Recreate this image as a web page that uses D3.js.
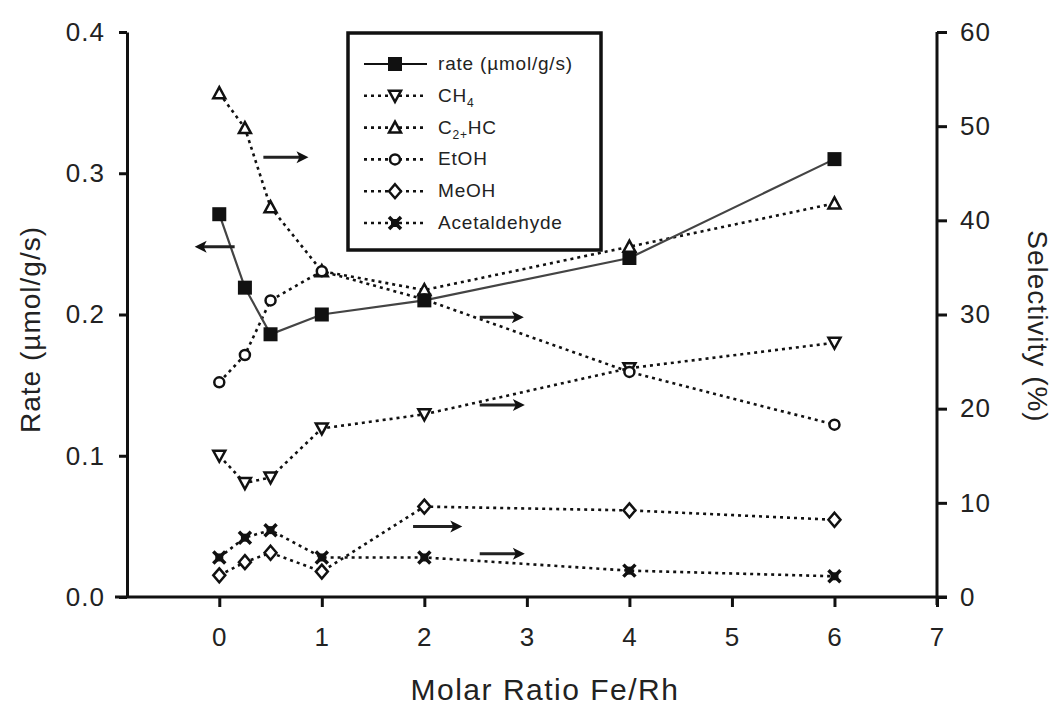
<!DOCTYPE html>
<html>
<head>
<meta charset="utf-8">
<script src="https://cdn.jsdelivr.net/npm/d3@7"></script>
<style>
  body { margin: 0; background: #fff; }
  svg text { font-family: "Liberation Sans", Arial, sans-serif; fill: #222; }
</style>
</head>
<body>
<svg id="chart"></svg>
<script>
// molar ratio Fe/Rh
const ratios = [0, 0.25, 0.5, 1, 2, 4, 6];

// left axis: rate (umol/g/s)
const rate = [0.271, 0.219, 0.186, 0.200, 0.210, 0.240, 0.310];

// right axis: selectivity (%)
const ch4 = [15.0, 12.1, 12.7, 17.9, 19.4, 24.3, 27.0];
const c2hc = [53.5, 49.8, 41.4, 34.6, 32.6, 37.2, 41.8];
const etoh = [22.8, 25.7, 31.5, 34.6, 31.6, 23.9, 18.3];
const meoh = [2.3, 3.7, 4.7, 2.7, 9.6, 9.2, 8.2];
const acetaldehyde = [4.2, 6.3, 7.1, 4.2, 4.2, 2.8, 2.2];

const xTicks = [0, 1, 2, 3, 4, 5, 6, 7];
const leftTicks = [0, 0.1, 0.2, 0.3, 0.4];
const rightTicks = [0, 10, 20, 30, 40, 50, 60];

// arrows pointing at the axis each curve belongs to
const arrows = [
  { from: 0.15, to: -0.24, y: 0.248, axis: 'left' },
  { from: 0.43, to: 0.87, y: 46.7, axis: 'right' },
  { from: 2.54, to: 2.97, y: 29.7, axis: 'right' },
  { from: 2.54, to: 2.98, y: 20.4, axis: 'right' },
  { from: 1.89, to: 2.37, y: 7.5, axis: 'right' },
  { from: 2.54, to: 2.98, y: 4.6, axis: 'right' }
];

const series = [
  { name: 'rate', label: 'rate (µmol/g/s)', values: rate, axis: 'left', symbol: 'square' },
  { name: 'ch4', label: 'CH', sub: '4', values: ch4, axis: 'right', symbol: 'down' },
  { name: 'c2hc', label: 'C', sub: '2+', tail: 'HC', values: c2hc, axis: 'right', symbol: 'up' },
  { name: 'etoh', label: 'EtOH', values: etoh, axis: 'right', symbol: 'circle' },
  { name: 'meoh', label: 'MeOH', values: meoh, axis: 'right', symbol: 'diamond' },
  { name: 'acet', label: 'Acetaldehyde', values: acetaldehyde, axis: 'right', symbol: 'star' }
];

const width = 1052, height = 705;
const plot = { left: 127, right: 937, top: 32, bottom: 597 };

const svg = d3.select('#chart')
  .attr('width', width)
  .attr('height', height);

const x = d3.scaleLinear().domain([-0.9, 7]).range([plot.left, plot.right]);
const yLeft = d3.scaleLinear().domain([0, 0.4]).range([plot.bottom, plot.top]);
const yRight = d3.scaleLinear().domain([0, 60]).range([plot.bottom, plot.top]);
const yFor = s => s.axis === 'left' ? yLeft : yRight;

// axes
const xAxis = svg.append('g')
  .attr('transform', `translate(0, ${plot.bottom})`)
  .call(d3.axisBottom(x).tickValues(xTicks).tickSize(10).tickSizeOuter(0).tickPadding(21).tickFormat(d3.format('d')));
xAxis.select('.domain').attr('d', `M${plot.left - 12},0H${plot.right + 10}`);

const leftAxis = svg.append('g')
  .attr('transform', `translate(${plot.left}, 0)`)
  .call(d3.axisLeft(yLeft).tickValues(leftTicks).tickSize(8).tickSizeOuter(0).tickPadding(14).tickFormat(d3.format('.1f')));

const rightAxis = svg.append('g')
  .attr('transform', `translate(${plot.right}, 0)`)
  .call(d3.axisRight(yRight).tickValues(rightTicks).tickSize(10).tickSizeOuter(0).tickPadding(13).tickFormat(d3.format('d')));
rightAxis.select('.domain').attr('d', `M0,${plot.top}V${plot.bottom + 8}`);

[xAxis, leftAxis, rightAxis].forEach(a => {
  a.selectAll('.domain, .tick line').attr('stroke', '#111').attr('stroke-width', 3);
  a.selectAll('text').attr('font-size', 26).attr('letter-spacing', 1).attr('fill', '#222');
});

// axis titles
svg.append('text')
  .attr('x', 545).attr('y', 700)
  .attr('text-anchor', 'middle')
  .attr('font-size', 30)
  .attr('letter-spacing', 1.5)
  .text('Molar Ratio Fe/Rh');

svg.append('text')
  .attr('transform', `translate(40, ${(plot.top + plot.bottom) / 2 + 15}) rotate(-90)`)
  .attr('text-anchor', 'middle')
  .attr('font-size', 28)
  .attr('letter-spacing', 1)
  .text('Rate (µmol/g/s)');

svg.append('text')
  .attr('transform', `translate(1028, ${(plot.top + plot.bottom) / 2 + 12}) rotate(90)`)
  .attr('text-anchor', 'middle')
  .attr('font-size', 28)
  .attr('letter-spacing', 1)
  .text('Selectivity (%)');

// markers
function drawSymbol(g, type) {
  if (type === 'square') {
    g.append('rect').attr('x', -7).attr('y', -7).attr('width', 14).attr('height', 14).attr('fill', '#111');
  } else if (type === 'down') {
    g.append('path').attr('d', 'M-6,-5L6,-5L0,6Z').attr('fill', '#fff').attr('stroke', '#111').attr('stroke-width', 2.5);
  } else if (type === 'up') {
    g.append('path').attr('d', 'M-6,5L6,5L0,-6Z').attr('fill', '#fff').attr('stroke', '#111').attr('stroke-width', 2.5);
  } else if (type === 'circle') {
    g.append('circle').attr('r', 5).attr('fill', '#fff').attr('stroke', '#111').attr('stroke-width', 2.5);
  } else if (type === 'diamond') {
    g.append('path').attr('d', 'M0,-7L6,0L0,7L-6,0Z').attr('fill', '#fff').attr('stroke', '#111').attr('stroke-width', 2.5);
  } else if (type === 'star') {
    g.append('path').attr('d', 'M-6,-6L6,6M-6,6L6,-6').attr('stroke', '#111').attr('stroke-width', 3.5);
    g.append('rect').attr('x', -4).attr('y', -4).attr('width', 8).attr('height', 8).attr('fill', '#111');
  }
}

const lineStyle = (sel, s) => sel
  .attr('fill', 'none')
  .attr('stroke', s.symbol === 'square' ? '#444' : '#111')
  .attr('stroke-width', s.symbol === 'square' ? 2.2 : 2.6)
  .attr('stroke-dasharray', s.symbol === 'square' ? null : '3,4');

// dotted series first, rate on top
const order = series.slice(1).concat(series[0]);
order.forEach(s => {
  const y = yFor(s);
  const line = d3.line().x((d, i) => x(ratios[i])).y(d => y(d));
  svg.append('path').datum(s.values).attr('d', line).call(lineStyle, s);
});
order.forEach(s => {
  const y = yFor(s);
  s.values.forEach((v, i) => {
    const g = svg.append('g').attr('transform', `translate(${x(ratios[i])}, ${y(v)})`);
    drawSymbol(g, s.symbol);
  });
});

// arrows
arrows.forEach(a => {
  const y = a.axis === 'left' ? yLeft : yRight;
  const x0 = x(a.from), x1 = x(a.to), yy = y(a.y);
  const dir = Math.sign(x1 - x0);
  svg.append('line')
    .attr('x1', x0).attr('x2', x1 - dir * 6)
    .attr('y1', yy).attr('y2', yy)
    .attr('stroke', '#222').attr('stroke-width', 3);
  svg.append('path')
    .attr('d', `M${x1},${yy}L${x1 - dir * 12},${yy - 6}L${x1 - dir * 9},${yy}L${x1 - dir * 12},${yy + 6}Z`)
    .attr('fill', '#111');
});

// legend
const legend = svg.append('g');
legend.append('rect')
  .attr('x', 348).attr('y', 33).attr('width', 253).attr('height', 217)
  .attr('fill', '#fff').attr('stroke', '#111').attr('stroke-width', 3.5);

series.forEach((s, i) => {
  const ly = 64 + i * 31.8;
  legend.append('line')
    .attr('x1', 364).attr('x2', 427).attr('y1', ly).attr('y2', ly)
    .call(lineStyle, s)
    .attr('stroke', '#111');
  drawSymbol(legend.append('g').attr('transform', `translate(395, ${ly})`), s.symbol);
  const t = legend.append('text')
    .attr('x', 438).attr('y', ly + 6)
    .attr('font-size', 19)
    .attr('letter-spacing', 0.8)
    .attr('fill', '#333');
  t.append('tspan').text(s.label);
  if (s.sub) t.append('tspan').attr('font-size', 12).attr('dy', 5).text(s.sub);
  if (s.tail) t.append('tspan').attr('dy', -5).text(s.tail);
});
</script>
</body>
</html>
